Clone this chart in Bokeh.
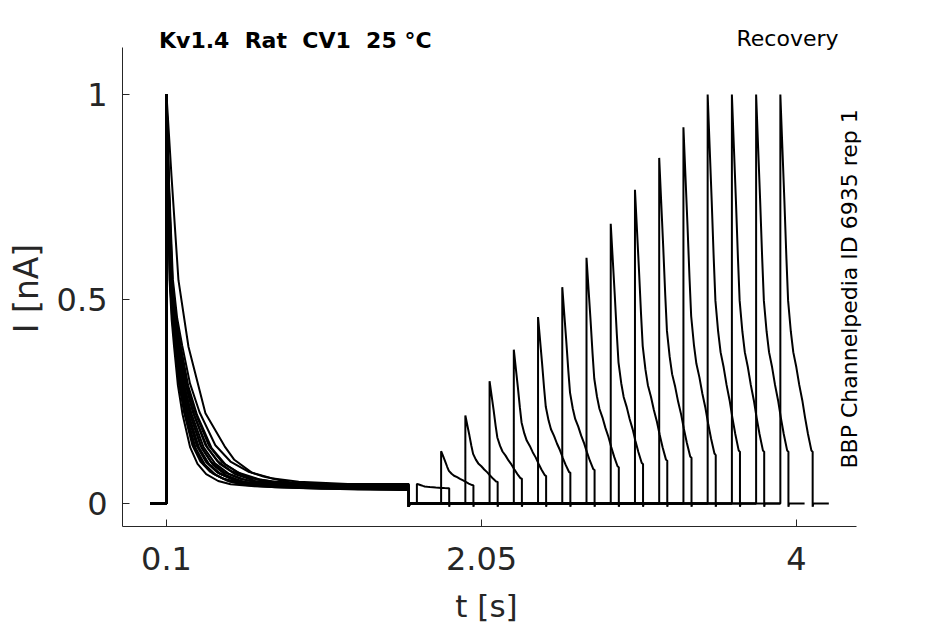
import math
from bokeh.plotting import figure
from bokeh.models import FixedTicker, Label, Range1d
from bokeh.embed import file_html
from bokeh.resources import INLINE

# ---- protocol and values ----
pulse1_start = 0.1          # s
pulse1_end = 1.6            # s
pulse2_duration = 0.2       # s
tail_duration = 0.1         # s
recovery_delay = [0.05, 0.20, 0.35, 0.50, 0.65, 0.80, 0.95, 1.10,
                  1.25, 1.40, 1.55, 1.70, 1.85, 2.00, 2.15, 2.30]   # s after pulse 1
peak2 = [0.048, 0.128, 0.215, 0.299, 0.376, 0.456, 0.529, 0.601,
         0.684, 0.767, 0.845, 0.920, 1.000, 1.000, 1.000, 1.000]    # nA (normalised)
plateau = 0.036
plateau1 = [0.038, 0.041, 0.033, 0.039, 0.035, 0.042, 0.036, 0.032,
            0.040, 0.034, 0.037, 0.039, 0.033, 0.036, 0.041, 0.035]  # end of pulse 1
undershoot = -0.008

# pulse 1: typical decay (time since onset [s], current)
decay1_t = [0.0, 0.012, 0.03, 0.05, 0.074, 0.11, 0.155, 0.229, 0.30,
            0.384, 0.50, 0.62, 0.85, 1.14, 1.5]
decay1_i = [1.0, 0.78, 0.545, 0.45, 0.382, 0.29, 0.219, 0.138, 0.098,
            0.073, 0.056, 0.048, 0.043, 0.040, 0.037]
# pulse 1: slowest sweep (separate outer curve)
slow_t = [0.0, 0.031, 0.074, 0.136, 0.241, 0.36, 0.42, 0.53, 0.60, 0.78, 1.0, 1.2, 1.5]
slow_i = [1.0, 0.80, 0.545, 0.382, 0.219, 0.138, 0.105, 0.073, 0.064, 0.048, 0.043, 0.040, 0.037]
# time stretch of the typical decay for the other sweeps (bundle spread)
decay_stretch = [None, 1.32, 1.22, 1.15, 1.10, 1.05, 1.00, 0.96,
                 0.92, 0.88, 0.85, 0.82, 0.79, 0.75, 0.70, 0.64]

# pulse 2: decay of a full-size (peak 1) response
decay2_t = [0.0, 0.0125, 0.025, 0.0375, 0.048, 0.065, 0.08, 0.099, 0.117,
            0.136, 0.153, 0.171, 0.192, 0.198]
decay2_i = [1.0, 0.87, 0.74, 0.60, 0.496, 0.42, 0.37, 0.333, 0.29,
            0.252, 0.21, 0.170, 0.13, 0.127]

x_ticks = [0.1, 2.05, 4]
x_tick_labels = ["0.1", "2.05", "4"]
y_ticks = [0, 0.5, 1]
y_tick_labels = ["0", "0.5", "1"]

# ---- build sweeps ----
xs, ys = [], []
for d, P, s, pl in zip(recovery_delay, peak2, decay_stretch, plateau1):
    t = [0.0, pulse1_start]
    i = [0.0, 0.0]
    if s is None:
        seg = zip(slow_t, slow_i)
        s = 1.0
    else:
        seg = zip(decay1_t, decay1_i)
    dp = pl - plateau
    for tt, v in seg:
        tc = pulse1_start + tt * s
        if tc < pulse1_end:
            t.append(tc)
            i.append(v + dp * (1 - v) / (1 - plateau))
    t += [pulse1_end, pulse1_end, pulse1_end + 0.004]
    i += [i[-1], undershoot, 0.0]
    t2 = pulse1_end + d
    t.append(t2)
    i.append(0.0)
    for tt, v in zip(decay2_t, decay2_i):
        t.append(t2 + tt)
        i.append(plateau + (P - plateau) * (v - plateau) / (1 - plateau))
    te = t2 + pulse2_duration
    t += [te, te, te + 0.004, te + tail_duration]
    i += [i[-1], undershoot, 0.0, 0.0]
    xs.append(t)
    ys.append(i)

FONT = "DejaVu Sans"
AX = "#262626"
# axes box (data units)
X0, X1 = -0.17238, 4.3714
Y0, Y1 = -0.05623, 1.1149
# whole canvas (data units) so that every text lies inside the frame
XS, XE = -0.92761, 4.92234
YS, YE = -0.29584, 1.22983

p = figure(frame_width=945, frame_height=624, title=None,
           output_backend="svg", toolbar_location=None,
           x_range=Range1d(XS, XE), y_range=Range1d(YS, YE),
           min_border_left=0, min_border_right=0, min_border_top=0,
           min_border_bottom=0)
p.outline_line_color = None
p.grid.visible = False
p.background_fill_color = "white"
p.border_fill_color = "white"

p.multi_line(xs, ys, line_color="black", line_width=2.0)

for ax in (p.xaxis[0], p.yaxis[0]):
    ax.axis_line_color = AX
    ax.axis_line_width = 1
    ax.major_tick_line_color = AX
    ax.major_tick_in = 7
    ax.major_tick_out = 0
    ax.minor_tick_line_color = None
    ax.major_label_text_font = FONT
    ax.major_label_text_font_size = "32px"
    ax.major_label_text_color = AX

p.xaxis.fixed_location = Y0
p.yaxis.fixed_location = X0
p.xaxis.bounds = (X0, X1)
p.yaxis.bounds = (Y0, Y1)
p.xaxis.ticker = FixedTicker(ticks=x_ticks)
p.xaxis.major_label_overrides = {k: v for k, v in zip(x_ticks, x_tick_labels)}
p.yaxis.ticker = FixedTicker(ticks=y_ticks)
p.yaxis.major_label_overrides = {k: v for k, v in zip(y_ticks, y_tick_labels)}
p.xaxis.major_label_standoff = 21
p.yaxis.major_label_standoff = 15

# axis titles
p.add_layout(Label(x=2.0809, y=-0.2494, text="t [s]", text_font=FONT,
                   text_font_size="31px", text_color=AX,
                   text_align="center", text_baseline="alphabetic"))
p.add_layout(Label(x=-0.7667, y=0.5257, text="I [nA]", angle=math.pi / 2,
                   text_font=FONT, text_font_size="33px", text_color=AX,
                   text_align="center", text_baseline="alphabetic"))

# header and side texts
p.add_layout(Label(x=0.0536, y=1.1320, text="Kv1.4\u00a0\u00a0Rat\u00a0\u00a0CV1\u00a0\u00a025 °C",
                   text_font=FONT, text_font_style="bold", text_font_size="22px",
                   text_color="black", text_align="left", text_baseline="alphabetic"))
p.add_layout(Label(x=3.6286, y=1.1369, text="Recovery",
                   text_font=FONT, text_font_size="22px",
                   text_color="black", text_align="left", text_baseline="alphabetic"))
p.add_layout(Label(x=4.3281, y=0.0856, text="BBP Channelpedia ID 6935 rep 1",
                   angle=math.pi / 2, text_font=FONT, text_font_size="22px",
                   text_color="black", text_align="left", text_baseline="alphabetic"))

open("out.html", "w").write(file_html(p, INLINE))
